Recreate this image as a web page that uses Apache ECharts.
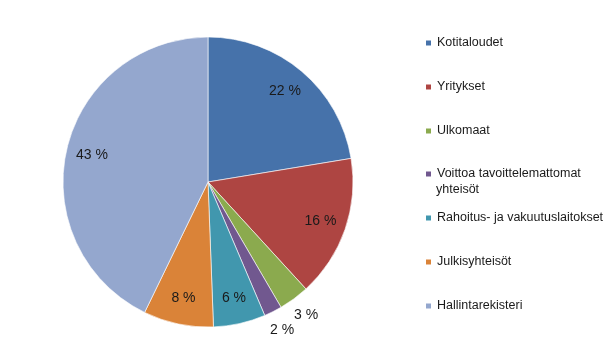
<!DOCTYPE html>
<html><head><meta charset="utf-8">
<script src="https://cdn.jsdelivr.net/npm/echarts@6/dist/echarts.min.js"></script>
<style>html,body{margin:0;padding:0;background:#fff}#c{width:616px;height:364px}</style>
</head><body><div id="c"></div>
<script>
const categories = ['Kotitaloudet','Yritykset','Ulkomaat','Voittoa tavoittelemattomat\nyhteisöt','Rahoitus- ja vakuutuslaitokset','Julkisyhteisöt','Hallintarekisteri'];
const values = [22.4, 15.8, 3.4, 2.0, 5.8, 7.8, 42.8];
const labels = ['22 %','16 %','3 %','2 %','6 %','8 %','43 %'];
const colors = ['#4672AA','#AE4542','#8BAA4E','#71588F','#4197AE','#DA8338','#94A7CE'];
const outsideIdx = [2,3];
const legendTops = [42,86,130,173,217,261,305];

const chart = echarts.init(document.getElementById('c'));
const R = 145, cx = 208, cy = 182;
const font = 'Liberation Sans, Arial, sans-serif';
const base = categories.map((n,i)=>({name:n, value:values[i], itemStyle:{color:colors[i]}}));
const inLab = categories.map((n,i)=>({name:n, value:values[i], label:{show:!outsideIdx.includes(i), formatter:labels[i]}}));
const outLab = categories.map((n,i)=>({name:n, value:values[i], label:{show:outsideIdx.includes(i), formatter:labels[i]}}));
const overlay = (r0, r1, data) => ({
  type:'pie', center:[cx,cy], radius:[r0,r1], startAngle:90, clockwise:true, silent:true,
  legendHoverLink:false, animation:false,
  itemStyle:{color:'rgba(0,0,0,0)', borderWidth:0}, labelLine:{show:false},
  label:{position:'inside', color:'#1a1a1a', fontSize:14, fontFamily:font},
  emphasis:{disabled:true}, data
});
const legendFont = 12.5;
const legends = categories.map((n,i)=>({
  orient:'vertical', left:424, top: legendTops[i] - 7, padding:0,
  data:[n], icon:'rect', itemWidth:7, itemHeight:7, itemGap:0, selectedMode:false,
  formatter: name => name.split('\n')[0],
  textStyle:{fontSize:legendFont, fontFamily:font, color:'#1a1a1a', lineHeight:16}
}));
const extraLines = [];
categories.forEach((n,i)=>{
  const parts = n.split('\n');
  for (let k=1;k<parts.length;k++) {
    extraLines.push({type:'text', left:436, top: legendTops[i] - 7 + 16*k,
      style:{text:parts[k], font: legendFont+'px '+font, fill:'#1a1a1a', lineHeight:16}});
  }
});
chart.setOption({
  animation:false,
  color: colors,
  legend: legends,
  graphic: extraLines,
  series:[
    {type:'pie', name:'Sektorit', center:[cx,cy], radius:[0,R], startAngle:90, clockwise:true,
     animation:false, label:{show:false}, labelLine:{show:false},
     itemStyle:{borderColor:'#fff', borderWidth:0.6}, emphasis:{disabled:true}, data:base},
    overlay(R*0.6, R, inLab),
    overlay(R*1.0, R*1.24, outLab)
  ]
});
</script></body></html>
